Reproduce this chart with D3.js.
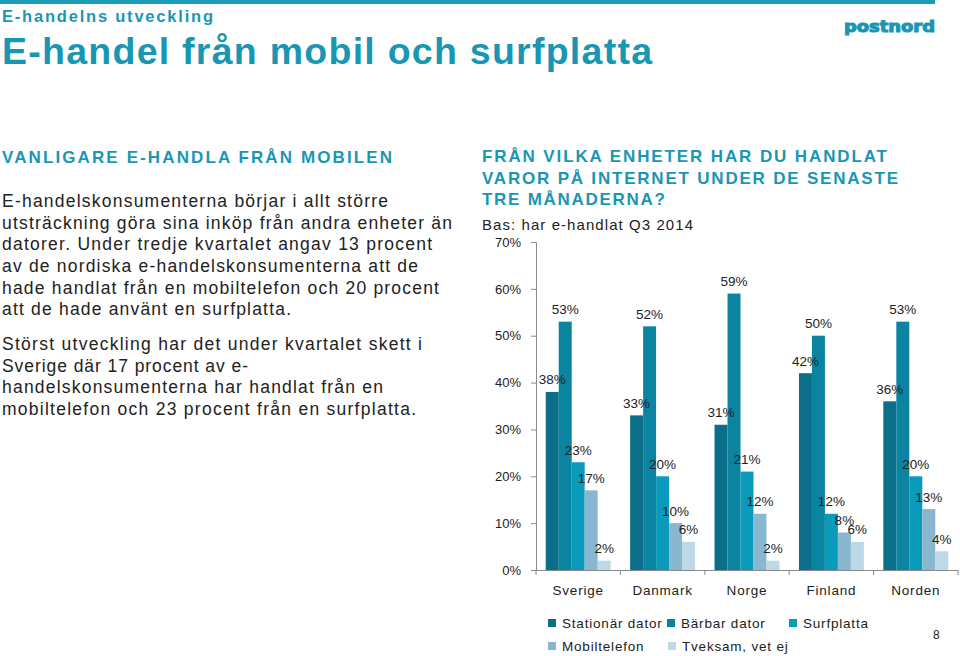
<!DOCTYPE html>
<html><head><meta charset="utf-8">
<script src="https://cdn.jsdelivr.net/npm/d3@7"></script>
<style>
html,body{margin:0;padding:0;background:#fff;}
svg{display:block;font-family:"Liberation Sans",Arial,sans-serif;}
</style></head>
<body>
<svg id="c" width="960" height="656"></svg>
<script>
const categories = ["Sverige","Danmark","Norge","Finland","Norden"];
const seriesNames = ["Stationär dator","Bärbar dator","Surfplatta","Mobiltelefon","Tveksam, vet ej"];
const seriesColors = ["#0c6f89","#0a84a0","#0a9abb","#89b7d0","#bdd8e7"];
const stationar = [38,33,31,42,36];
const barbar = [53,52,59,50,53];
const surfplatta = [23,20,21,12,20];
const mobiltelefon = [17,10,12,8,13];
const tveksam = [2,6,2,6,4];
const seriesValues = [stationar, barbar, surfplatta, mobiltelefon, tveksam];
const yTicks = [0,10,20,30,40,50,60,70];

const teal = "#1a96b5";
const svg = d3.select("#c");

// top bar
svg.append("rect").attr("x",0).attr("y",0).attr("width",935).attr("height",4).attr("fill","#1a9bb8");

function txt(t, x, y, size, opts={}) {
  const e = svg.append("text").attr("x",x).attr("y",y).attr("font-size",size)
    .attr("fill", opts.fill||"#222").attr("font-weight", opts.bold?"bold":"normal").text(t);
  if (opts.len) e.attr("textLength",opts.len).attr("lengthAdjust", opts.adj || "spacing");
  if (opts.family) e.attr("font-family",opts.family);
  if (opts.anchor) e.attr("text-anchor",opts.anchor);
  return e;
}

txt("E-handelns utveckling", 2, 22, 16.5, {fill:teal, bold:true, len:211});
txt("E-handel från mobil och surfplatta", 2, 64, 37.5, {fill:teal, bold:true, len:650});
txt("postnord", 844, 32, 16, {fill:teal, bold:true, len:91, adj:"spacingAndGlyphs", family:"DejaVu Sans"})
  .attr("stroke", teal).attr("stroke-width", 1.1);

// left column
txt("VANLIGARE E-HANDLA FRÅN  MOBILEN", 2, 163, 17, {fill:teal, bold:true, len:390});
const body = [
 ["E-handelskonsumenterna börjar i allt större",207,386],
 ["utsträckning göra sina inköp från andra enheter än",229,450],
 ["datorer. Under tredje kvartalet angav 13 procent",250,430],
 ["av de nordiska e-handelskonsumenterna att de",272,416],
 ["hade handlat från en mobiltelefon och 20 procent",294,437],
 ["att de hade använt en surfplatta.",315,289],
 ["Störst utveckling har det under kvartalet skett i",350,420],
 ["Sverige där 17 procent av e-",372,246],
 ["handelskonsumenterna har handlat från en",393,381],
 ["mobiltelefon och 23 procent från en surfplatta.",415,414]
];
body.forEach(b => txt(b[0], 2, b[1], 17.5, {len:b[2]}));

// right title
txt("FRÅN VILKA ENHETER HAR DU HANDLAT", 482, 162, 17, {fill:teal, bold:true, len:405});
txt("VAROR PÅ INTERNET UNDER DE SENASTE", 482, 184, 17, {fill:teal, bold:true, len:416});
txt("TRE MÅNADERNA?", 482, 205, 17, {fill:teal, bold:true, len:183});
txt("Bas: har e-handlat Q3 2014", 482, 230, 15, {len:211});

// chart
const x0 = d3.scaleBand().domain(categories).range([536, 958]).paddingInner(0).paddingOuter(0);
const x1 = d3.scaleBand().domain(seriesNames).range([0, x0.bandwidth()]).paddingInner(0).paddingOuter(0.75);
const y = d3.scaleLinear().domain([0, 70]).range([570, 242]);

// y axis
const yAxis = d3.axisLeft(y).tickValues(yTicks).tickFormat(d => d + "%").tickSize(5).tickPadding(10);
const gy = svg.append("g").attr("transform","translate(536,0)").call(yAxis);
gy.select(".domain").attr("stroke","#8a8a8a");
gy.selectAll(".tick line").attr("stroke","#8a8a8a");
gy.selectAll(".tick text").attr("font-size",13).attr("fill","#222").attr("font-family","Liberation Sans, Arial, sans-serif");

// bars
const groups = svg.append("g").selectAll("g").data(categories).join("g")
  .attr("transform", d => `translate(${x0(d)},0)`);
groups.each(function(cat, ci){
  const g = d3.select(this);
  seriesNames.forEach((s, si) => {
    const v = seriesValues[si][ci];
    g.append("rect").attr("x", x1(s)).attr("width", x1.bandwidth())
      .attr("y", y(v)).attr("height", y(0) - y(v)).attr("fill", seriesColors[si]);
  });
});
groups.each(function(cat, ci){
  const g = d3.select(this);
  seriesNames.forEach((s, si) => {
    const v = seriesValues[si][ci];
    g.append("text").attr("x", x1(s) + x1.bandwidth()/2).attr("y", y(v) - 7.5)
      .attr("text-anchor","middle").attr("font-size",13.5).attr("fill","#222").text(v + "%");
  });
});

// x axis
const xAxisLine = svg.append("g");
xAxisLine.append("line").attr("x1",536).attr("x2",958).attr("y1",570.5).attr("y2",570.5).attr("stroke","#8a8a8a");
const bounds = categories.map(c => x0(c)).concat([x0(categories[categories.length-1]) + x0.bandwidth()]);
xAxisLine.selectAll("line.t").data(bounds).join("line").attr("class","t")
  .attr("x1", d => d).attr("x2", d => d).attr("y1",570).attr("y2",575).attr("stroke","#8a8a8a");
svg.append("g").selectAll("text").data(categories).join("text")
  .attr("x", d => x0(d) + x0.bandwidth()/2).attr("y", 595).attr("text-anchor","middle")
  .attr("font-size",13.5).attr("letter-spacing",0.8).attr("fill","#222").text(d => d);

// legend
const legPos = [[548,628],[667,628],[789,628],[548,651],[668,651]];
seriesNames.forEach((s, i) => {
  const [lx, ly] = legPos[i];
  svg.append("rect").attr("x", lx).attr("y", ly - 9).attr("width", 8).attr("height", 8).attr("fill", seriesColors[i]);
  svg.append("text").attr("x", lx + 14).attr("y", ly).attr("font-size",13.5).attr("letter-spacing",0.8)
    .attr("fill","#222").text(s);
});
txt("8", 933, 639, 12);
</script>
</body></html>
